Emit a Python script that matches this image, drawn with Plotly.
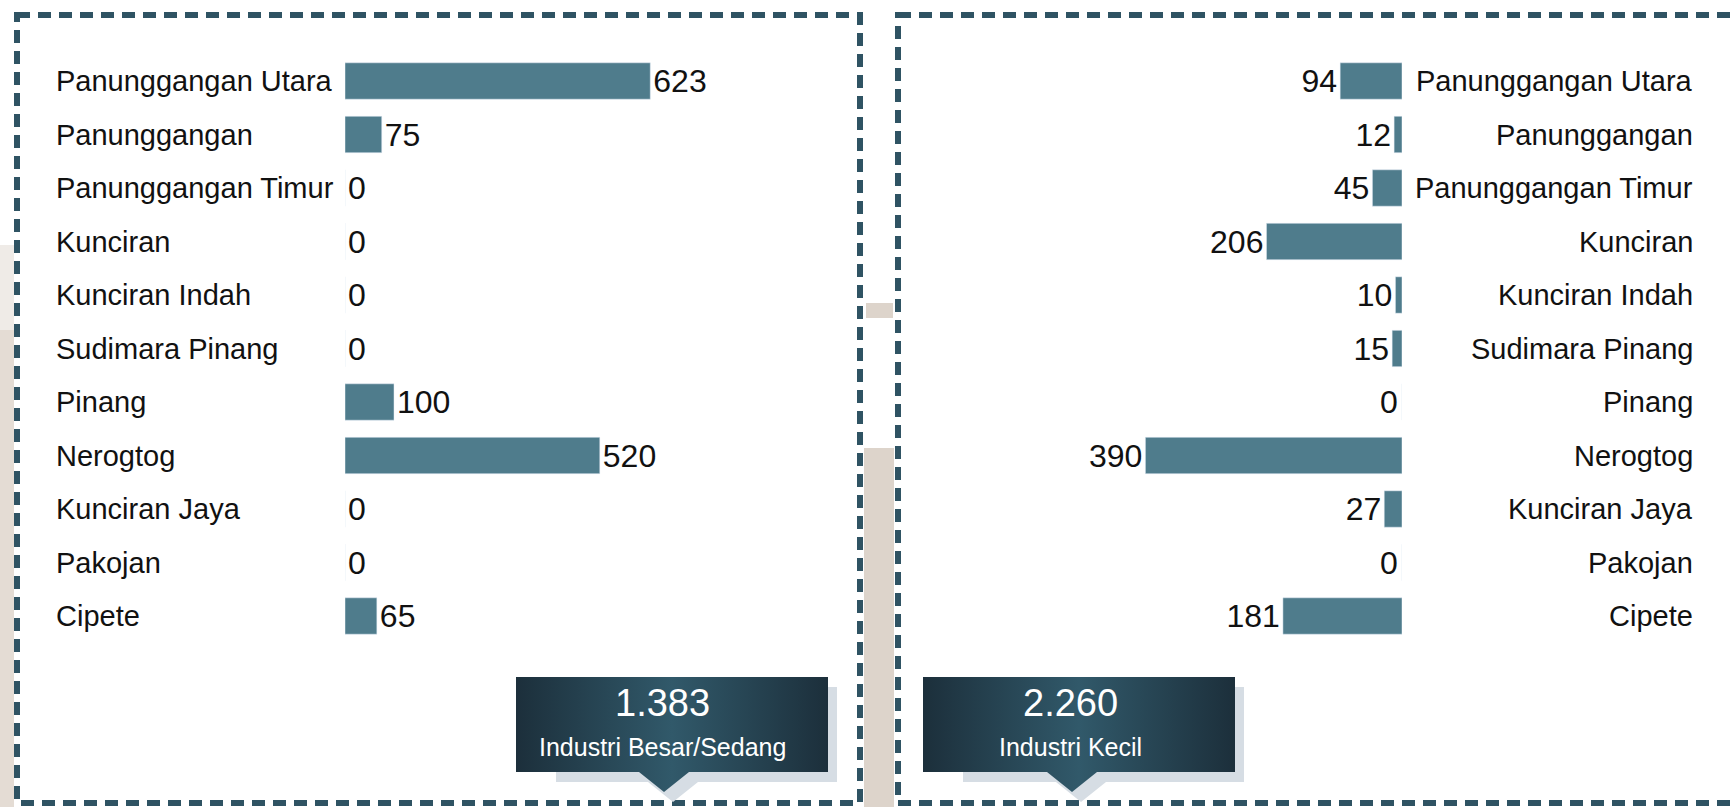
import plotly.graph_objects as go

# ---------------- data ----------------
categories = ["Panunggangan Utara", "Panunggangan", "Panunggangan Timur", "Kunciran",
              "Kunciran Indah", "Sudimara Pinang", "Pinang", "Nerogtog",
              "Kunciran Jaya", "Pakojan", "Cipete"]
besar_sedang = [623, 75, 0, 0, 0, 0, 100, 520, 0, 0, 65]
kecil = [94, 12, 45, 206, 10, 15, 0, 390, 27, 0, 181]
totals = ["1.383", "2.260"]
total_labels = ["Industri Besar/Sedang", "Industri Kecil"]

W, H = 1733, 807
FONT = "Liberation Sans, Arial, sans-serif"
BAR = "#4f7c8c"
BORDER = "#2f5363"
LABEL_SIZE = 29
VALUE_SIZE = 32

fig = go.Figure()

fig.add_trace(go.Bar(
    y=categories, x=besar_sedang, orientation="h", marker_color=BAR, width=0.68,
    text=[str(v) for v in besar_sedang], textposition="outside", cliponaxis=False,
    textfont=dict(family=FONT, size=VALUE_SIZE, color="#111111"),
    xaxis="x", yaxis="y", hoverinfo="skip"))

# right panel: zero values get their label as an annotation left of the base
fig.add_trace(go.Bar(
    y=categories, x=kecil, orientation="h", marker_color=BAR, width=0.68,
    text=[str(v) if v else "" for v in kecil], textposition="outside", cliponaxis=False,
    textfont=dict(family=FONT, size=VALUE_SIZE, color="#111111"),
    xaxis="x2", yaxis="y2", hoverinfo="skip"))

# callout boxes (decorations, pixel layout on an overlay axis)
boxes = [
    dict(x0=516, x1=828, tip=664),
    dict(x0=923, x1=1235, tip=1072),
]
by0, by1, tipy = 677, 772, 792
for b in boxes:
    x0, x1, t = b["x0"], b["x1"], b["tip"]
    px = [x0, x1, x1, t + 25, t, t - 25, x0, x0]
    py = [by0, by0, by1, by1, tipy, by1, by1, by0]
    fig.add_trace(go.Scatter(
        x=[v + 9 if v > x0 + 40 else x0 + 40 for v in px], y=[v + 10 for v in py],
        fill="toself", fillcolor="#d6dde4", line=dict(width=0), mode="lines",
        xaxis="x3", yaxis="y3", hoverinfo="skip", showlegend=False))
    fig.add_trace(go.Scatter(
        x=px, y=py, fill="toself", mode="lines", line=dict(width=0),
        fillgradient=dict(type="horizontal",
                          colorscale=[[0, "#1c2f3b"], [0.5, "#31596a"], [1, "#1c2f3b"]]),
        xaxis="x3", yaxis="y3", hoverinfo="skip", showlegend=False))

annotations = []
for c, v in zip(categories, kecil):
    annotations.append(dict(x=54 / W, xref="paper", y=c, yref="y", text=c,
                            xanchor="left", showarrow=False,
                            font=dict(family=FONT, size=LABEL_SIZE, color="#111111")))
    annotations.append(dict(x=1695 / W, xref="paper", y=c, yref="y2", text=c,
                            xanchor="right", showarrow=False,
                            font=dict(family=FONT, size=LABEL_SIZE, color="#111111")))
    if v == 0:
        annotations.append(dict(x=0, xref="x2", y=c, yref="y2", text=str(v),
                                xanchor="right", xshift=-2, showarrow=False,
                                font=dict(family=FONT, size=VALUE_SIZE, color="#111111")))

centers = [662, 1070]
for cx, tv, tl in zip(centers, totals, total_labels):
    annotations.append(dict(x=cx, xref="x3", y=703, yref="y3", text=tv, showarrow=False,
                            font=dict(family=FONT, size=38, color="white")))
    annotations.append(dict(x=cx, xref="x3", y=747, yref="y3", text=tl, showarrow=False,
                            font=dict(family=FONT, size=25, color="white")))

shapes = [
    dict(type="rect", xref="x3", yref="y3", x0=864, x1=894, y0=448, y1=807,
         fillcolor="#ddd4cb", line=dict(width=0), layer="below"),
    dict(type="rect", xref="x3", yref="y3", x0=866, x1=893, y0=303, y1=318,
         fillcolor="#ddd4cb", line=dict(width=0), layer="below"),
    dict(type="rect", xref="x3", yref="y3", x0=0, x1=14, y0=245, y1=330,
         fillcolor="#efebe7", line=dict(width=0), layer="below"),
    dict(type="rect", xref="x3", yref="y3", x0=0, x1=14, y0=330, y1=807,
         fillcolor="#e4dcd4", line=dict(width=0), layer="below"),
    dict(type="rect", xref="x3", yref="y3", x0=17, x1=860, y0=15, y1=803,
         line=dict(color=BORDER, width=6, dash="13px,8px"), layer="below"),
    dict(type="rect", xref="x3", yref="y3", x0=898, x1=1760, y0=15, y1=803,
         line=dict(color=BORDER, width=6, dash="13px,8px"), layer="below"),
]

ydom = [1 - 642.75 / H, 1 - 54.25 / H]
fig.update_layout(
    width=W, height=H, margin=dict(l=0, r=0, t=0, b=0),
    paper_bgcolor="white", plot_bgcolor="rgba(0,0,0,0)",
    showlegend=False, barmode="overlay",
    xaxis=dict(domain=[345 / W, 860 / W], range=[0, 1051], visible=False, anchor="y"),
    yaxis=dict(domain=ydom, range=[10.5, -0.5], visible=False, anchor="x",
               type="category"),
    xaxis2=dict(domain=[898 / W, 1402 / W], range=[766, 0], visible=False, anchor="y2"),
    yaxis2=dict(domain=ydom, range=[10.5, -0.5], visible=False, anchor="x2",
                type="category"),
    xaxis3=dict(domain=[0, 1], range=[0, W], visible=False, anchor="y3"),
    yaxis3=dict(domain=[0, 1], range=[H, 0], visible=False, anchor="x3"),
    annotations=annotations, shapes=shapes,
)

fig.write_html("out.html")
